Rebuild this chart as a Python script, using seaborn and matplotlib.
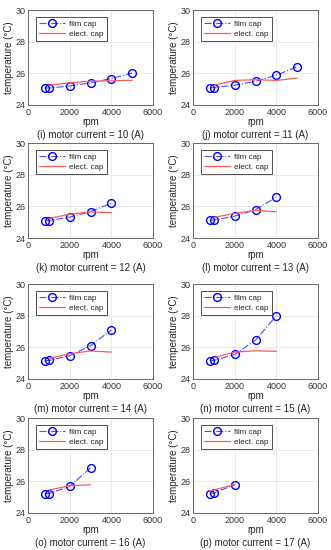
import numpy as np
import pandas as pd
import matplotlib
matplotlib.use("Agg")
import matplotlib.pyplot as plt
import seaborn as sns

sns.set_theme(style="whitegrid")
plt.rcParams["font.family"] = ["Liberation Sans", "DejaVu Sans"]
plt.rcParams["font.size"] = 6.5

# dados
letras = ["i", "j", "k", "l", "m", "n", "o", "p"]
correntes = [10, 11, 12, 13, 14, 15, 16, 17]

rpm_film = [
    [800, 1000, 2000, 3000, 4000, 5000],
    [800, 1000, 2000, 3000, 4000, 5000],
    [800, 1000, 2000, 3000, 4000],
    [800, 1000, 2000, 3000, 4000],
    [800, 1000, 2000, 3000, 4000],
    [800, 1000, 2000, 3000, 4000],
    [800, 1000, 2000, 3000],
    [800, 1000, 2000],
]
temp_film = [
    [25.07, 25.07, 25.2, 25.4, 25.67, 26.02],
    [25.08, 25.1, 25.25, 25.5, 25.88, 26.42],
    [25.08, 25.1, 25.32, 25.66, 26.2],
    [25.12, 25.14, 25.38, 25.78, 26.58],
    [25.15, 25.17, 25.47, 26.1, 27.1],
    [25.15, 25.17, 25.55, 26.45, 28.0],
    [25.2, 25.23, 25.68, 26.85],
    [25.22, 25.27, 25.78],
]

rpm_elec = [
    [1000, 2000, 3000, 4000, 5000],
    [1000, 2000, 3000, 4000, 5000],
    [1000, 2000, 3000, 4000],
    [1000, 2000, 3000, 4000],
    [1000, 2000, 3000, 4000],
    [1000, 2000, 3000, 4000],
    [1000, 2000, 3000],
    [800, 1000, 2000],
]
temp_elec = [
    [25.25, 25.4, 25.5, 25.53, 25.56],
    [25.25, 25.55, 25.6, 25.55, 25.7],
    [25.23, 25.5, 25.65, 25.6],
    [25.3, 25.55, 25.75, 25.65],
    [25.3, 25.6, 25.77, 25.7],
    [25.35, 25.7, 25.78, 25.75],
    [25.45, 25.72, 25.78],
    [25.4, 25.45, 25.8],
]

fig = plt.figure(figsize=(3.31, 5.5), dpi=100)

esquerda = [28 / 331, 193 / 331]
largura = 125 / 331
fundos = [1 - 105 / 550, 1 - 238 / 550, 1 - 379 / 550, 1 - 513 / 550]
altura = 95 / 550

for i in range(8):
    linha, coluna = divmod(i, 2)
    ax = fig.add_axes([esquerda[coluna], fundos[linha], largura, altura])
    ax.set_facecolor("white")

    sns.lineplot(x=rpm_film[i], y=temp_film[i], ax=ax, color="#4d4dff",
                 linestyle="-.", linewidth=0.8, marker="o", markersize=5.6,
                 markerfacecolor="none", markeredgecolor="blue",
                 markeredgewidth=1.0, label="film cap")
    sns.lineplot(x=rpm_elec[i], y=temp_elec[i], ax=ax, color="#ff5a5a",
                 linewidth=0.9, label="elect. cap")

    ax.set_xlim(0, 6000)
    ax.set_ylim(24, 30)
    ax.set_xticks([0, 2000, 4000, 6000])
    ax.set_yticks([24, 26, 28, 30])
    ax.grid(True, color="#e2e2e2", linewidth=0.5)
    for s in ax.spines.values():
        s.set_color("#555555")
        s.set_linewidth(0.6)
    ax.tick_params(axis="both", labelsize=6.5, pad=2, length=0, colors="#333333")

    ax.set_xlabel("rpm", fontsize=7, labelpad=0)
    ax.set_ylabel("temperature (°C)", fontsize=7, labelpad=1)
    ax.text(0.5, -0.315, f"({letras[i]}) motor current = {correntes[i]} (A)",
            transform=ax.transAxes, ha="center", va="center", fontsize=7)

    leg = ax.legend(loc="upper left", fontsize=5.8, handlelength=3.2,
                    borderpad=0.4, labelspacing=0.3, handletextpad=0.5,
                    fancybox=False, framealpha=1, bbox_to_anchor=(0.03, 0.97))
    leg.get_frame().set_edgecolor("#333333")
    leg.get_frame().set_linewidth(0.6)

plt.savefig("out.png", dpi=100)
